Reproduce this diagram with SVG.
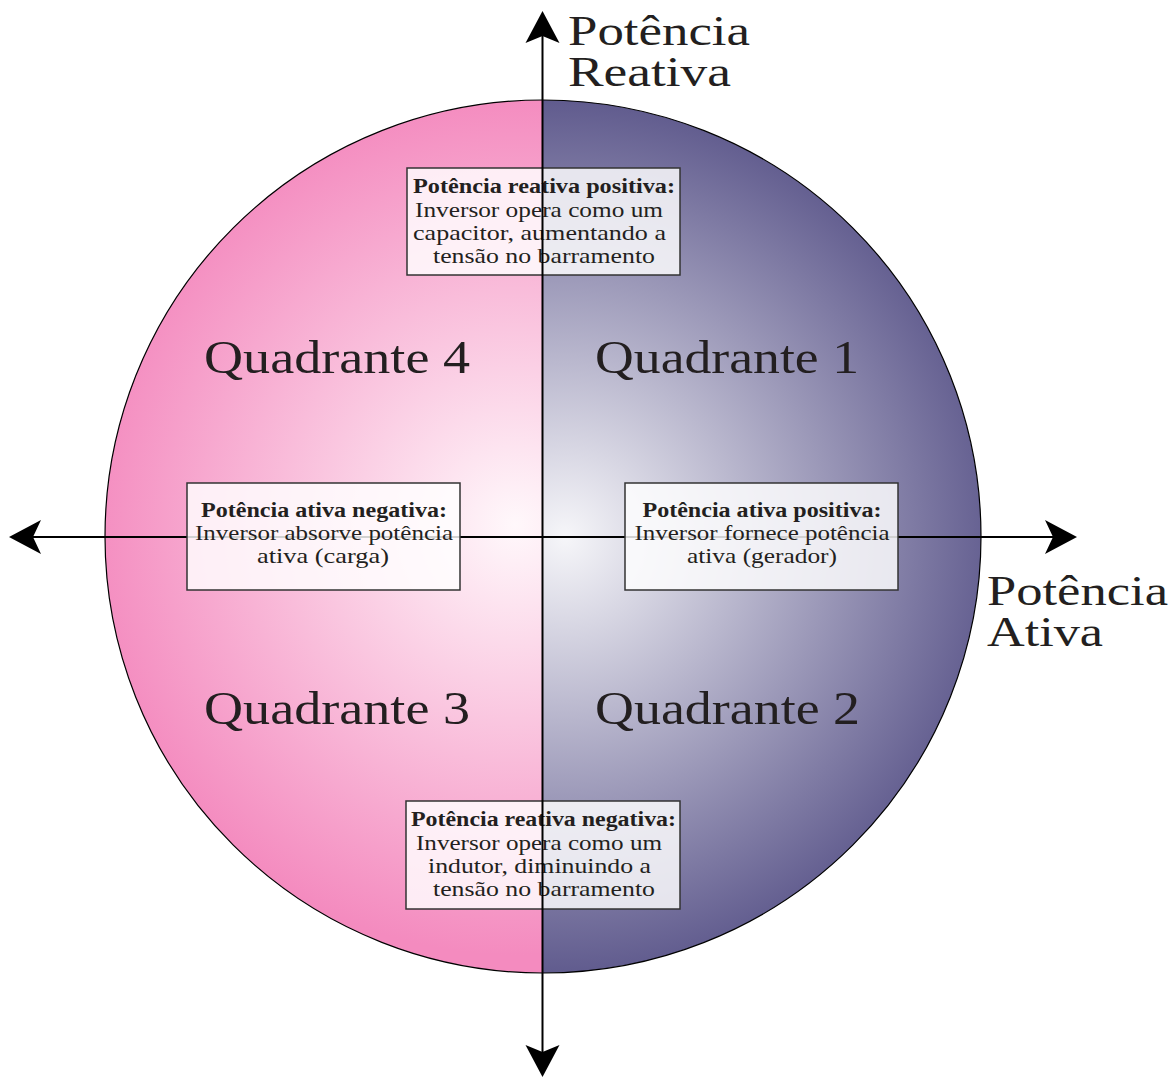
<svg xmlns="http://www.w3.org/2000/svg" width="1174" height="1077" viewBox="0 0 1174 1077">
<style>
  text { font-family: "Liberation Serif", "DejaVu Serif", serif; fill: #231F20; text-anchor: middle; }
  .big { font-size: 43px; text-anchor: start; }
  .quad { font-size: 47px; text-anchor: start; }
  .bt { font-size: 20px; font-weight: bold; }
  .nt { font-size: 21px; }
  .box { fill: #ffffff; fill-opacity: 0.82; stroke: #333333; stroke-width: 1.5; }
  .axis { stroke: #000; stroke-width: 2; fill: none; }
</style>
<defs>
  <radialGradient id="gPink" gradientUnits="userSpaceOnUse" cx="515" cy="525" r="430">
    <stop offset="0" stop-color="#FFF8FB"/>
    <stop offset="1" stop-color="#F48BBF"/>
  </radialGradient>
  <radialGradient id="gPurple" gradientUnits="userSpaceOnUse" cx="565" cy="537" r="440">
    <stop offset="0" stop-color="#F6F6F9"/>
    <stop offset="1" stop-color="#5F5A8D"/>
  </radialGradient>
</defs>

<g id="circle">
  <path d="M543,100 A438,436.5 0 0 0 543,973 Z" fill="url(#gPink)"/>
  <path d="M543,100 A438,436.5 0 0 1 543,973 Z" fill="url(#gPurple)"/>
  <ellipse cx="543" cy="536.5" rx="438" ry="436.5" fill="none" stroke="#000" stroke-width="1.2"/>
</g>

<g id="connectors">
  <line class="axis" x1="33" y1="537" x2="1053" y2="537"/>
  <path d="M9,537 L41,520 L33,537 L41,554 Z" fill="#000"/>
  <path d="M1077,537 L1045,520 L1053,537 L1045,554 Z" fill="#000"/>
</g>

<g id="box-top">
  <rect class="box" x="407" y="168" width="273" height="107"/>
  <text class="bt" x="544" y="193" textLength="262" lengthAdjust="spacingAndGlyphs">Potência reativa positiva:</text>
  <text class="nt" x="539" y="217" textLength="248" lengthAdjust="spacingAndGlyphs">Inversor opera como um</text>
  <text class="nt" x="539.5" y="240" textLength="253" lengthAdjust="spacingAndGlyphs">capacitor, aumentando a</text>
  <text class="nt" x="544" y="263" textLength="222" lengthAdjust="spacingAndGlyphs">tensão no barramento</text>
</g>

<g id="box-left">
  <rect class="box" x="187" y="483" width="273" height="107"/>
  <text class="bt" x="324" y="517" textLength="246" lengthAdjust="spacingAndGlyphs">Potência ativa negativa:</text>
  <text class="nt" x="324" y="540" textLength="258" lengthAdjust="spacingAndGlyphs">Inversor absorve potência</text>
  <text class="nt" x="323" y="563" textLength="132" lengthAdjust="spacingAndGlyphs">ativa (carga)</text>
</g>

<g id="box-right">
  <rect class="box" x="625" y="483" width="273" height="107"/>
  <text class="bt" x="762" y="517" textLength="239" lengthAdjust="spacingAndGlyphs">Potência ativa positiva:</text>
  <text class="nt" x="762" y="540" textLength="255" lengthAdjust="spacingAndGlyphs">Inversor fornece potência</text>
  <text class="nt" x="762" y="563" textLength="150" lengthAdjust="spacingAndGlyphs">ativa (gerador)</text>
</g>

<g id="box-bottom">
  <rect class="box" x="406" y="801" width="274" height="108"/>
  <text class="bt" x="543.5" y="826" textLength="265" lengthAdjust="spacingAndGlyphs">Potência reativa negativa:</text>
  <text class="nt" x="539" y="850" textLength="246" lengthAdjust="spacingAndGlyphs">Inversor opera como um</text>
  <text class="nt" x="539.5" y="873" textLength="223" lengthAdjust="spacingAndGlyphs">indutor, diminuindo a</text>
  <text class="nt" x="544" y="896" textLength="222" lengthAdjust="spacingAndGlyphs">tensão no barramento</text>
</g>

<g id="vertical-axis">
  <line class="axis" x1="542.5" y1="36" x2="542.5" y2="1053"/>
  <path d="M542.5,11 L525.5,43 L542.5,36 L559.5,43 Z" fill="#000"/>
  <path d="M542.5,1077 L525.5,1045 L542.5,1052 L559.5,1045 Z" fill="#000"/>
</g>

<g id="labels">
  <text class="big" x="568" y="45" textLength="182" lengthAdjust="spacingAndGlyphs">Potência</text>
  <text class="big" x="568" y="86" textLength="163" lengthAdjust="spacingAndGlyphs">Reativa</text>
  <text class="big" x="987" y="605" textLength="181" lengthAdjust="spacingAndGlyphs">Potência</text>
  <text class="big" x="987" y="646" textLength="116" lengthAdjust="spacingAndGlyphs">Ativa</text>
</g>

<g id="quadrants">
  <text class="quad" x="204" y="373" textLength="266" lengthAdjust="spacingAndGlyphs">Quadrante 4</text>
  <text class="quad" x="595" y="373" textLength="264" lengthAdjust="spacingAndGlyphs">Quadrante 1</text>
  <text class="quad" x="204" y="724" textLength="266" lengthAdjust="spacingAndGlyphs">Quadrante 3</text>
  <text class="quad" x="595" y="724" textLength="265" lengthAdjust="spacingAndGlyphs">Quadrante 2</text>
</g>
</svg>
